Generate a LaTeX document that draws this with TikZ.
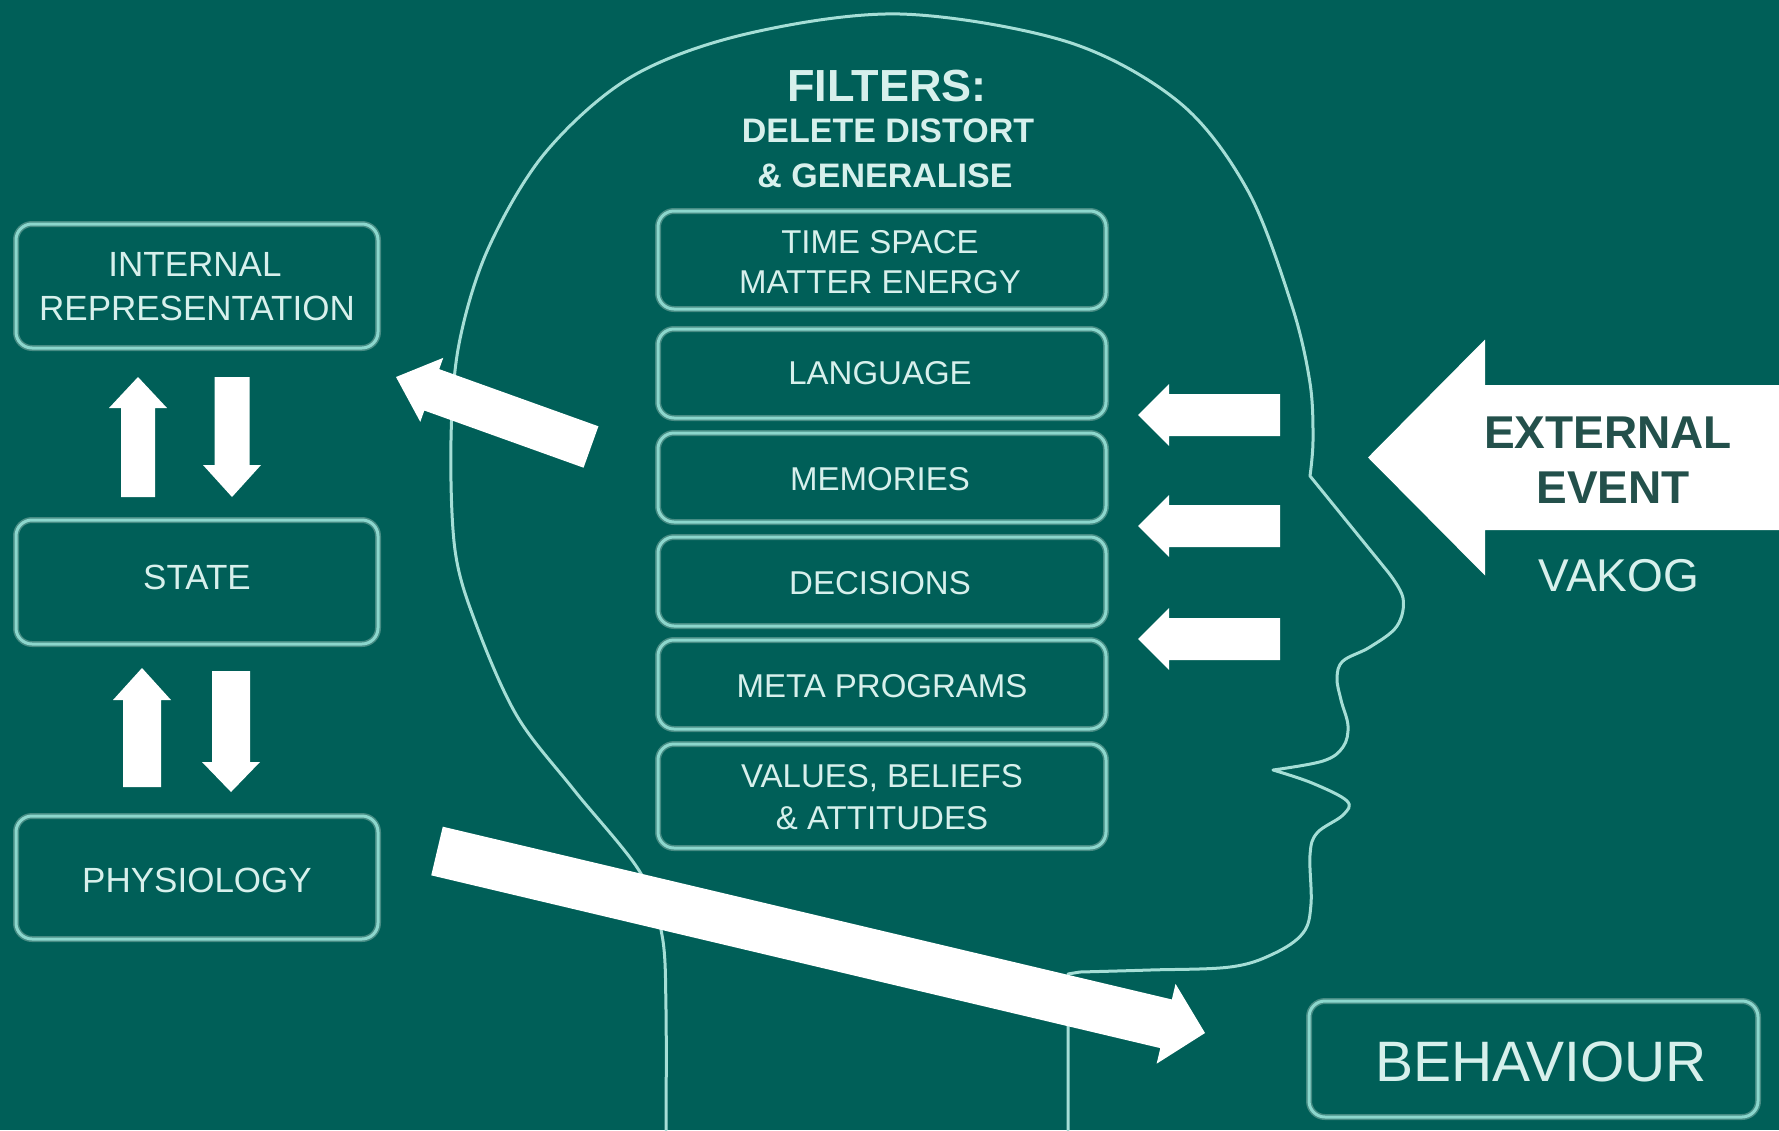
\documentclass[tikz,border=0pt]{standalone}
\usepackage{fontspec}
\setmainfont{Liberation Sans}
\usetikzlibrary{calc}
\definecolor{bg}{RGB}{0,95,88}
\definecolor{boxline}{RGB}{140,215,205}
\definecolor{boxshadow}{RGB}{70,140,132}
\definecolor{headline}{RGB}{165,222,214}
\definecolor{txt}{RGB}{215,240,236}
\definecolor{darktxt}{RGB}{35,80,75}
\newcommand{\BlkArrow}[6]{% name, tail, tip, half shaft, half head, head length
  \coordinate (#1-T) at #2;
  \coordinate (#1-P) at #3;
  \coordinate (#1-H) at ($(#1-P)!#6!(#1-T)$);
  \fill[arrowfill] ($(#1-T)!#4!90:(#1-P)$) -- ($(#1-H)!#4!90:(#1-P)$) -- ($(#1-H)!#5!90:(#1-P)$)
    -- (#1-P) -- ($(#1-H)!#5!-90:(#1-P)$) -- ($(#1-H)!#4!-90:(#1-P)$) -- ($(#1-T)!#4!-90:(#1-P)$) -- cycle;
}
\tikzset{
  box/.style={draw=boxline, line width=3pt, rounded corners=16pt, inner sep=0pt,
    preaction={draw=boxshadow, line width=6pt}},
  lbl/.style={text=txt, anchor=base, inner sep=0pt, align=center, font=\fontsize{35pt}{42pt}\selectfont},
  flbl/.style={lbl, font=\fontsize{33pt}{40pt}\selectfont},
  hdr/.style={lbl, font=\fontsize{34pt}{40pt}\selectfont\bfseries},
  arrowfill/.style={fill=white},
  headln/.style={draw=headline, line width=3pt, line join=round, line cap=round},
}
\begin{document}
\begin{tikzpicture}[x=1pt,y=-1pt]
\useasboundingbox (0,0) rectangle (1779,1130);
\fill[bg] (0,0) rectangle (1779,1130);

% head outline
\draw[headln] plot[smooth, tension=0.55] coordinates {(666,1130) (666,1010) (662,935) (640,872) (574,790) (517,716) (476,624) (455,550) (451,440) (459,344) (488,249) (545,153) (631,77) (746,34) (900,14) (1068,42) (1180,103) (1248,191) (1292,306) (1310,383) (1313,440) (1310,476)}
  -- plot[smooth, tension=0.6] coordinates {(1388,572) (1403,598) (1397,626) (1370,647) (1343,661) (1337,678) (1341,700) (1348,726) (1343,747) (1323,761) (1273,770)}
  plot[smooth, tension=0.6] coordinates {(1273,770) (1312,783) (1347,801) (1343,815) (1317,833) (1310,855) (1311,904) (1303,933) (1273,954) (1230,967) (1150,970) (1080,972)}
  -- (1068,974) -- (1068,1130);

% left boxes
\node[box, minimum width=362pt, minimum height=124pt] (ir) at (197,286) {};
\node[box, minimum width=362pt, minimum height=124pt] (st) at (197,582) {};
\node[box, minimum width=362pt, minimum height=123pt] (ph) at (197,877.5) {};
\node[lbl] (irt1) at (195,276) {INTERNAL};
\node[lbl] (irt2) at (197,320) {REPRESENTATION};
\node[lbl] (stt) at (197,589) {STATE};
\node[lbl] (pht) at (197,892) {PHYSIOLOGY};

% header
\node[lbl, font=\fontsize{45pt}{50pt}\selectfont\bfseries] (f1) at (887,101) {FILTERS:};
\node[hdr] (f2) at (888,142) {DELETE DISTORT};
\node[hdr] (f3) at (885,187) {\& GENERALISE};

% filter boxes
\node[box, minimum width=448pt, minimum height=98pt] (b1) at (882,260) {};
\node[box, minimum width=448pt, minimum height=89pt] (b2) at (882,373.5) {};
\node[box, minimum width=448pt, minimum height=89pt] (b3) at (882,477.5) {};
\node[box, minimum width=448pt, minimum height=89pt] (b4) at (882,581.5) {};
\node[box, minimum width=448pt, minimum height=89pt] (b5) at (882,684.5) {};
\node[box, minimum width=448pt, minimum height=104pt] (b6) at (882,796) {};
\node[flbl] (t1a) at (880,253) {TIME SPACE};
\node[flbl] (t1b) at (880,293) {MATTER ENERGY};
\node[flbl] (t2) at (880,384) {LANGUAGE};
\node[flbl] (t3) at (880,490) {MEMORIES};
\node[flbl] (t4) at (880,594) {DECISIONS};
\node[flbl] (t5) at (882,697) {META PROGRAMS};
\node[flbl] (t6a) at (882,787) {VALUES, BELIEFS};
\node[flbl] (t6b) at (882,829) {\& ATTITUDES};

% behaviour
\node[box, minimum width=449pt, minimum height=116pt] (bh) at (1533.5,1059) {};
\node[lbl, font=\fontsize{57pt}{62pt}\selectfont] (bht) at (1541,1081) {BEHAVIOUR};

% arrows
\BlkArrow{u1}{(138,497)}{(138,377)}{17pt}{29pt}{31pt}
\BlkArrow{d1}{(232,377)}{(232,497)}{17.5pt}{29pt}{32pt}
\BlkArrow{u2}{(142,787)}{(142,668)}{19pt}{29pt}{32pt}
\BlkArrow{d2}{(231,671)}{(231,792)}{19pt}{29pt}{30pt}
\BlkArrow{ia}{(591,447)}{(396,377)}{22pt}{34pt}{38pt}
\BlkArrow{ba}{(437,851)}{(1205,1033)}{25pt}{41pt}{40pt}
\BlkArrow{s1}{(1280,415)}{(1138,415)}{21pt}{31pt}{31pt}
\BlkArrow{s2}{(1280,526)}{(1138,526)}{21pt}{31pt}{31pt}
\BlkArrow{s3}{(1280,639)}{(1138,639)}{21pt}{31pt}{31pt}
\BlkArrow{ex}{(1790,457.5)}{(1368,457.5)}{72.5pt}{118pt}{117pt}

% external event
\node[lbl, text=darktxt, font=\fontsize{46pt}{50pt}\selectfont\bfseries] (ext1) at (1608,448) {EXTERNAL};
\node[lbl, text=darktxt, font=\fontsize{46pt}{50pt}\selectfont\bfseries] (ext2) at (1613,503) {EVENT};
\node[lbl, font=\fontsize{46pt}{50pt}\selectfont] (vak) at (1619,591) {VAKOG};
\end{tikzpicture}
\end{document}
